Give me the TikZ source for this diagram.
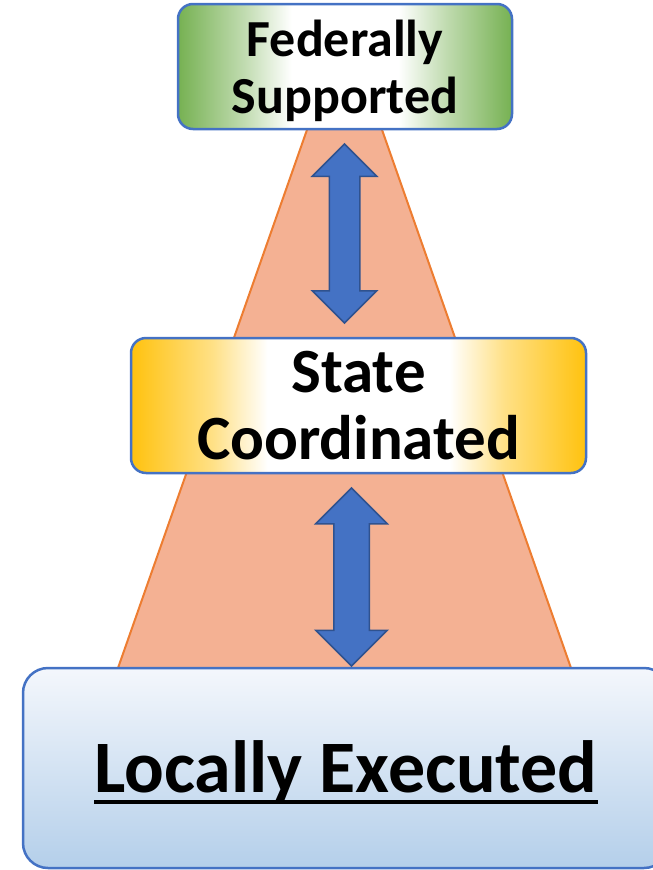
\documentclass[tikz,border=0pt]{standalone}
\usepackage{fontspec}
\setmainfont{Carlito}
\usetikzlibrary{shapes.arrows}
\definecolor{coneFill}{RGB}{244,177,147}
\definecolor{coneLine}{RGB}{237,125,49}
\definecolor{boxLine}{RGB}{68,114,196}
\definecolor{arrowFill}{RGB}{68,114,196}
\definecolor{arrowLine}{RGB}{47,82,143}
\definecolor{fedGreen}{RGB}{118,177,82}
\definecolor{stateGold}{RGB}{255,194,14}
\definecolor{localTop}{RGB}{244,247,252}
\definecolor{localBot}{RGB}{180,207,234}
% edge colour fading to a broad white middle
\pgfdeclarehorizontalshading{fedshade}{100bp}{color(0bp)=(fedGreen); color(25bp)=(fedGreen);
  color(35bp)=(fedGreen!45); color(42bp)=(white); color(58bp)=(white);
  color(65bp)=(fedGreen!45); color(75bp)=(fedGreen); color(100bp)=(fedGreen)}
\pgfdeclarehorizontalshading{stateshade}{100bp}{color(0bp)=(stateGold); color(25bp)=(stateGold);
  color(34bp)=(stateGold!50); color(40bp)=(white); color(60bp)=(white);
  color(66bp)=(stateGold!50); color(75bp)=(stateGold); color(100bp)=(stateGold)}
\newcommand\ulinetext[1]{\setbox0\hbox{#1}\rlap{\rule[-12pt]{\wd0}{4pt}}\box0}
\tikzset{
  levelbox/.style={
    draw=boxLine, line width=2.5pt, rounded corners=15pt,
    align=center, inner sep=0pt, font=\bfseries
  },
  fedbox/.style={levelbox, shading=fedshade,
    minimum width=334pt, minimum height=125pt, text depth=0pt,
    font=\bfseries\fontsize{52}{57}\selectfont},
  statebox/.style={levelbox, shading=stateshade,
    minimum width=455pt, minimum height=135pt,
    font=\bfseries\fontsize{63}{67}\selectfont},
  localbox/.style={levelbox, top color=localTop, bottom color=localBot,
    rounded corners=25pt, minimum width=646pt, minimum height=200pt,
    text height=62pt, text depth=14pt,
    font=\bfseries\fontsize{74}{80}\selectfont},
  linkarrow/.style={
    double arrow, draw=arrowLine, fill=arrowFill, line width=1.5pt,
    double arrow tip angle=90, inner xsep=0pt, rotate=90
  }
}
\begin{document}
\begin{tikzpicture}[x=1pt,y=-1pt]
\useasboundingbox (0,0) rectangle (653,870);
\clip (0,0) rectangle (653,870);

% cone behind the levels
\draw[fill=coneFill, draw=coneLine, line width=2pt] (344.5,23) -- (118,668) -- (571,668) -- cycle;

% levels
\node[fedbox] (fed) at (345,66.5) {Federally\\Supported};
\node[statebox] (state) at (358.5,405.5) {State\\Coordinated};
\node[localbox] (local) at (346,768) {\ulinetext{Locally Executed}};

% two way arrows
\node[linkarrow, minimum height=179pt, inner ysep=14.5pt, double arrow head extend=17pt] (fedstate) at (344.5,233.5) {};
\node[linkarrow, minimum height=178pt, inner ysep=17pt, double arrow head extend=18pt] (statelocal) at (351.5,577) {};

\end{tikzpicture}
\end{document}
